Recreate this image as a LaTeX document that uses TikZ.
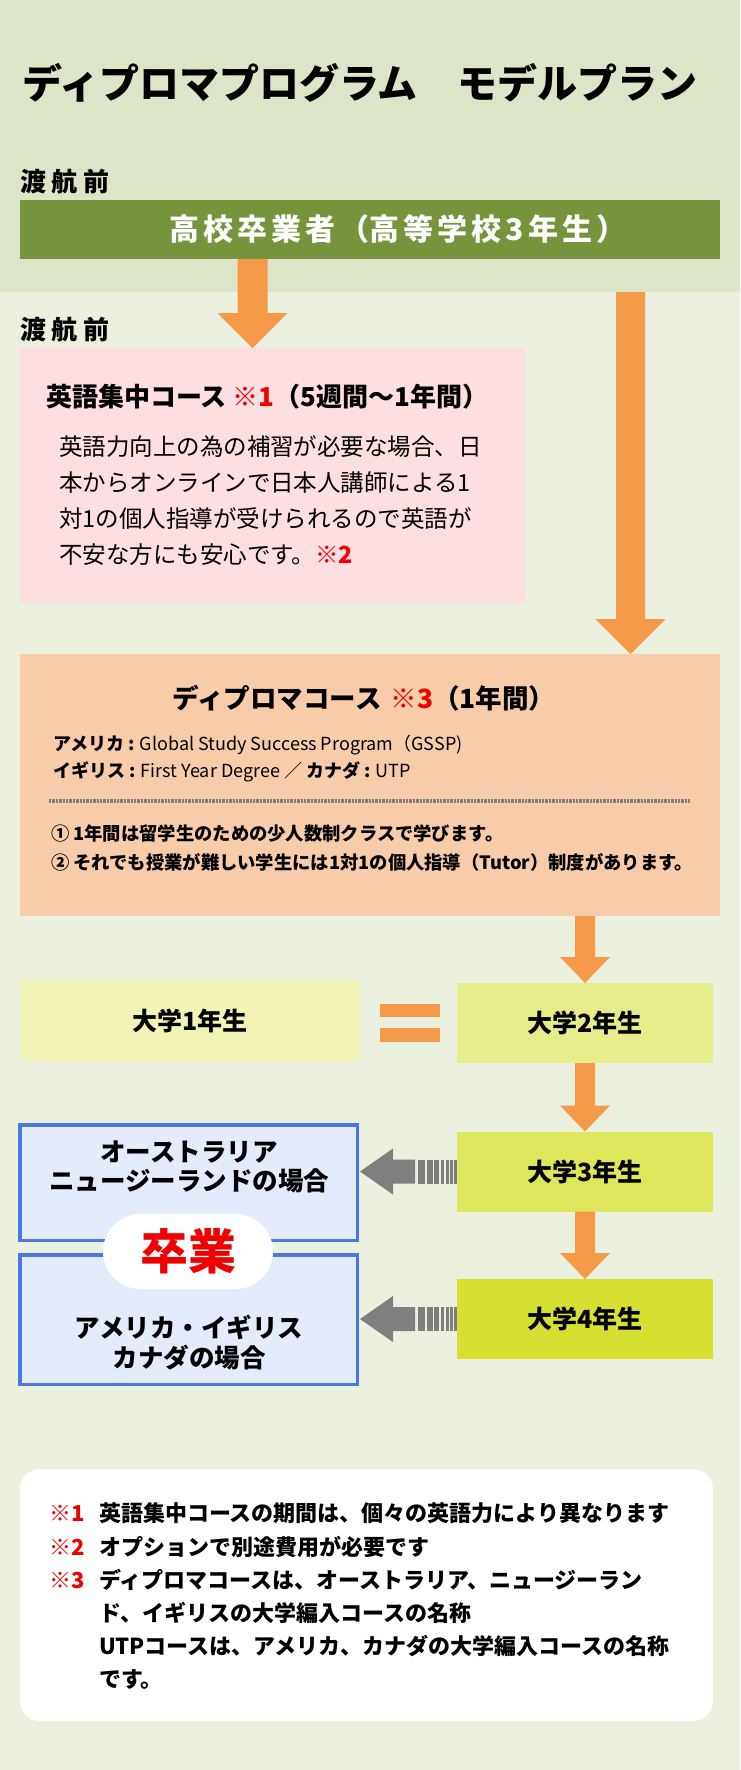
\documentclass[tikz,border=0pt]{standalone}
\usepackage{fontspec}
\setmainfont{Noto Sans CJK JP}
\usetikzlibrary{calc}

\definecolor{bandgreen}{HTML}{DDE5C8}
\definecolor{pagegreen}{HTML}{EBF1DE}
\definecolor{olivebar}{HTML}{77933C}
\definecolor{arroworange}{HTML}{F59A48}
\definecolor{pinkbox}{HTML}{FDDEE1}
\definecolor{peachbox}{HTML}{F8CCA8}
\definecolor{yearone}{HTML}{F1F4B5}
\definecolor{yeartwo}{HTML}{E6EC8A}
\definecolor{yearthree}{HTML}{DEE65C}
\definecolor{yearfour}{HTML}{D6E032}
\definecolor{gradfill}{HTML}{E4ECFC}
\definecolor{gradline}{HTML}{4A78E0}
\definecolor{notered}{HTML}{F00000}
\definecolor{stripegray}{HTML}{7F7F7F}

% block arrow pointing down: from, to, half shaft, half head, head length
\newcommand\orangedown[5]{%
  \fill[arroworange] let \p1=(#1), \p2=(#2) in
    (\x1-#3pt,\y1) -- (\x1+#3pt,\y1) -- (\x1+#3pt,\y2+#5pt) -- (\x1+#4pt,\y2+#5pt)
    -- (\x1,\y2) -- (\x1-#4pt,\y2+#5pt) -- (\x1-#3pt,\y2+#5pt) -- cycle;}
\newcommand\gap{\kern4pt}

\begin{document}
\begin{tikzpicture}[x=1pt, y=-1pt, every node/.style={inner sep=0pt, outer sep=0pt},
    fs/.style={font=\fontsize{#1}{#1}\selectfont},
    fsb/.style={font=\fontsize{#1}{#1}\selectfont\bfseries},
    yearbox/.style={minimum width=256pt, minimum height=80pt, fsb=25},
    gradbox/.style={draw=gradline, line width=3.5pt, fill=gradfill, minimum width=337.5pt},
    notemark/.style={anchor=west, text=notered, fsb=22}]
  \path[use as bounding box] (0,0) rectangle (740,1770);
  \fill[pagegreen] (0,0) rectangle (740,1770);
  \fill[bandgreen] (0,0) rectangle (740,292);

  \node[anchor=west, fsb=40] (title) at (22,83) {ディプロマプログラム　モデルプラン};
  \node[anchor=west, fsb=26] (pre1) at (20,182) {渡\hspace{6pt}航\hspace{6pt}前};
  \node[fill=olivebar, minimum width=700pt, minimum height=59pt] (hs) at (370,229.5) {};
  \node[text=white, fsb=30] (hstext) at ([xshift=28]hs.center)
    {高\gap 校\gap 卒\gap 業\gap 者\gap （高\gap 等\gap 学\gap 校\gap 3\gap 年\gap 生\gap ）};
  \node[anchor=west, fsb=26] (pre2) at (20,330) {渡\hspace{6pt}航\hspace{6pt}前};

  % english course
  \node[fill=pinkbox, minimum width=505pt, minimum height=255pt] (eng) at (272.5,475.5) {};
  \node[anchor=west, fsb=26] (engtitle) at (46,397) {英語集中コース \textcolor{notered}{※1}（5週間～1年間）};
  \node[anchor=west, align=left, font=\fontsize{23.5}{36}\selectfont] (engtext) at (59,501)
    {英語力向上の為の補習が必要な場合、日\\本からオンラインで日本人講師による1\\対1の個人指導が受けられるので英語が\\不安な方にも安心です。\textbf{\textcolor{notered}{※2}}};

  % diploma course
  \node[fill=peachbox, minimum width=700pt, minimum height=262pt] (dip) at (370,785) {};
  \node[fsb=26.5] (diptitle) at (364,698) {ディプロマコース\hspace{9pt}\textcolor{notered}{※3}（1年間）};
  \node[anchor=west, fs=18] (dipus) at (53,745) {\textbf{アメリカ :} Global Study Success Program（GSSP)};
  \node[anchor=west, fs=18] (dipuk) at (53,772) {\textbf{イギリス :} First Year Degree ／ \textbf{カナダ :} UTP};
  \draw[stripegray, line width=3.5pt, dash pattern=on 2.4pt off 1pt] (49,801) -- (690,801);
  \node[anchor=west, fsb=18.3] (dipone) at (51,834) {① 1年間は留学生のための少人数制クラスで学びます。};
  \node[anchor=west, fsb=18.3] (diptwo) at (51,862) {② それでも授業が難しい学生には1対1の個人指導（Tutor）制度があります。};

  % university years
  \node[yearbox, fill=yearone, minimum width=340pt, minimum height=81pt] (y1) at (190,1020.5) {大学1年生};
  \node[yearbox, fill=yeartwo] (y2) at (585,1023) {大学2年生};
  \node[yearbox, fill=yearthree] (y3) at (585,1171.5) {大学3年生};
  \node[yearbox, fill=yearfour] (y4) at (585,1319) {大学4年生};
  \fill[arroworange] (380,1004) rectangle (440,1017);
  \fill[arroworange] (380,1028) rectangle (440,1042);

  % graduation
  \node[gradbox, minimum height=115.5pt] (au) at (188.5,1182.5) {};
  \node[align=center, font=\fontsize{25.5}{29}\selectfont\bfseries] (autext) at (189,1166.5) {オーストラリア\\ニュージーランドの場合};
  \node[gradbox, minimum height=129.5pt] (us) at (188.5,1319.5) {};
  \node[align=center, font=\fontsize{25.5}{30}\selectfont\bfseries] (ustext) at (189,1343) {アメリカ・イギリス\\カナダの場合};
  \node[fill=white, rounded corners=37.5pt, minimum width=170pt, minimum height=75pt,
    text=notered, fsb=48] (grad) at (188,1251.5) {卒業};

  % arrows
  \coordinate (split) at (630.5,292);
  \orangedown{[xshift=-117.5]hs.south}{[xshift=-20]eng.north}{15}{35}{35}
  \orangedown{split}{split |- dip.north}{14.5}{35}{35}
  \orangedown{y2.north |- dip.south}{y2.north}{10}{25}{26}
  \orangedown{y2.south}{y3.north}{10}{25}{26}
  \orangedown{y3.south}{y4.north}{10}{25}{26}
  \foreach \yr in {y3,y4} {
    \begin{scope}[shift={(\yr.west)}]
      \fill[stripegray] (-97,0) -- (-64,-23) -- (-64,-12) -- (-42,-12) -- (-42,12) -- (-64,12) -- (-64,23) -- cycle;
      \foreach \a/\b in {-39.3/-32, -30.3/-24.3, -23/-17.7, -16.3/-12.7, -11.3/-8, -7/-4, -3/-0.3}
        \fill[stripegray] (\a,-12) rectangle (\b,12);
    \end{scope}
  }

  % notes
  \node[fill=white, rounded corners=20pt, minimum width=693pt, minimum height=252pt] (notes) at (366.5,1595) {};
  \node[notemark] (m1) at (49,1513) {※1};
  \node[notemark] (m2) at (49,1547) {※2};
  \node[notemark] (m3) at (49,1580) {※3};
  \node[anchor=west, fsb=22] (n1) at (99,1513) {英語集中コースの期間は、個々の英語力により異なります};
  \node[anchor=west, fsb=22] (n2) at (99,1547) {オプションで別途費用が必要です};
  \node[anchor=west, align=left, font=\fontsize{22}{33}\selectfont\bfseries] (n3) at (99,1629)
    {ディプロマコースは、オーストラリア、ニュージーラン\\ド、イギリスの大学編入コースの名称\\UTPコースは、アメリカ、カナダの大学編入コースの名称\\です。};
\end{tikzpicture}
\end{document}
